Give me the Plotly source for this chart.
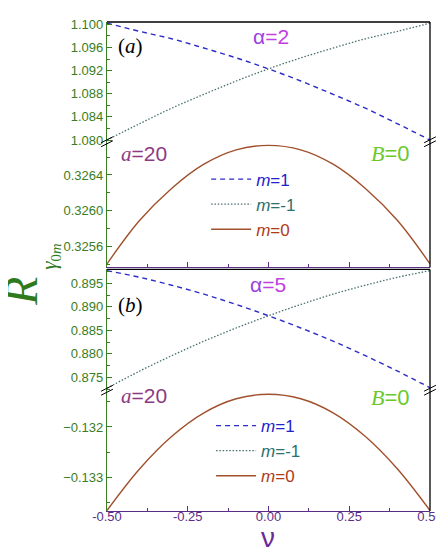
import plotly.graph_objects as go

# ---------------- data ----------------
nu = [-0.5, -0.4, -0.3, -0.2, -0.1, 0.0, 0.1, 0.2, 0.3, 0.4, 0.5]

# panel (a): alpha = 2
a_m1 = [1.1002, 1.0988, 1.0975, 1.0959, 1.0942, 1.0923, 1.0902, 1.0879, 1.0855, 1.0828, 1.0800]
a_mneg1 = [1.0800, 1.0828, 1.0855, 1.0879, 1.0902, 1.0923, 1.0942, 1.0959, 1.0975, 1.0988, 1.1002]
a_m0 = [0.32541, 0.32589, 0.32625, 0.32652, 0.32668, 0.32673, 0.32668, 0.32652, 0.32625, 0.32589, 0.32541]

# panel (b): alpha = 5
b_m1 = [0.8977, 0.8963, 0.8946, 0.8927, 0.8905, 0.8881, 0.8855, 0.8827, 0.8796, 0.8763, 0.8728]
b_mneg1 = [0.8727, 0.8763, 0.8796, 0.8827, 0.8855, 0.8881, 0.8905, 0.8927, 0.8946, 0.8963, 0.8977]
b_m0 = [-0.13366, -0.13284, -0.13219, -0.13172, -0.13144, -0.13135, -0.13144, -0.13172, -0.13219, -0.13284, -0.13366]

x_ticks = [-0.5, -0.25, 0.0, 0.25, 0.5]
x_ticktext = ["-0.50", "-0.25", "0.00", "0.25", "0.50"]

# ---------------- layout helpers ----------------
W, H = 444, 550
L, R, T, B = 99, 16, 9, 47
PW, PH = W - L - R, H - T - B


def px(xp):
    return (xp - L) / PW


def py(yp):
    return (H - B - yp) / PH


GREEN = "#3a7d22"
PURPLE = "#5c2d86"
BLUE = "#2c2cc8"
TEAL = "#4a6f70"
BROWN = "#a0502c"

fig = go.Figure()

dash_blue = "5px,4px"
dot_teal = "1.5px,1.8px"


def add_panel(xa, ya_up, ya_lo, m1, mneg1, m0, legend):
    fig.add_trace(go.Scatter(x=nu, y=m1, xaxis=xa, yaxis=ya_up, mode="lines",
                             line=dict(color=BLUE, width=1.4, dash=dash_blue, shape="spline"),
                             name="<span style='color:#2222cc'><i>m</i>=1</span>", legend=legend))
    fig.add_trace(go.Scatter(x=nu, y=mneg1, xaxis=xa, yaxis=ya_up, mode="lines",
                             line=dict(color=TEAL, width=1.3, dash=dot_teal, shape="spline"),
                             name="<span style='color:#2a7070'><i>m</i>=-1</span>", legend=legend))
    fig.add_trace(go.Scatter(x=nu, y=m0, xaxis=xa, yaxis=ya_lo, mode="lines",
                             line=dict(color=BROWN, width=1.4, shape="spline"),
                             name="<span style='color:#b03a1a'><i>m</i>=0</span>", legend=legend))


add_panel("x2", "y", "y2", a_m1, a_mneg1, a_m0, "legend")
add_panel("x", "y3", "y4", b_m1, b_mneg1, b_m0, "legend2")

tickfont_y = dict(family="Liberation Sans, Arial", size=13, color=GREEN)
tickfont_x = dict(family="Liberation Sans, Arial", size=13, color=PURPLE)

yd1 = [py(130), 1.0]
yd2 = [py(257), py(130)]
yd3 = [py(381), py(259)]
yd4 = [0.0, py(381)]


def yaxis(domain, rng, dtick, tick0, fmt):
    return dict(domain=domain, range=rng, anchor="x", showline=True, linecolor=GREEN,
                linewidth=1.3, ticks="inside", ticklen=5, tickcolor=GREEN, tickwidth=1,
                dtick=dtick, tick0=tick0, tickformat=fmt, tickfont=tickfont_y,
                showgrid=False, zeroline=False,
                minor=dict(ticks="inside", ticklen=3, tickcolor=GREEN, dtick=dtick / 2,
                           tick0=tick0, showgrid=False))


xcommon = dict(range=[-0.5, 0.5], showline=True, linecolor=PURPLE, linewidth=1.3,
               ticks="inside", ticklen=5, tickcolor=PURPLE, tickvals=x_ticks,
               showgrid=False, zeroline=False,
               minor=dict(ticks="inside", ticklen=3, tickcolor=PURPLE,
                          tickvals=[-0.375, -0.125, 0.125, 0.375], showgrid=False))

fig.update_layout(
    width=W, height=H,
    margin=dict(l=L, r=R, t=T, b=B),
    plot_bgcolor="white", paper_bgcolor="white",
    xaxis=dict(domain=[0, 1], anchor="y4", ticktext=x_ticktext, tickfont=tickfont_x,
               ticklabelstandoff=-7, **xcommon),
    xaxis2=dict(domain=[0, 1], anchor="y2", matches="x", showticklabels=False, **xcommon),
    yaxis=yaxis(yd1, [1.0797, 1.1004], 0.004, 1.08, ".3f"),
    yaxis2=yaxis(yd2, [0.32537, 0.32677], 0.0004, 0.3256, ".4f"),
    yaxis3=yaxis(yd3, [0.87226, 0.89795], 0.005, 0.875, ".3f"),
    yaxis4=yaxis(yd4, [-0.13367, -0.13127], 0.001, -0.133, ".3f"),
    legend=dict(x=px(200), y=py(150), xanchor="left", yanchor="top",
                bgcolor="rgba(0,0,0,0)", font=dict(family="Liberation Sans, Arial", size=17),
                tracegroupgap=0, itemwidth=40),
    legend2=dict(x=px(205), y=py(399), xanchor="left", yanchor="top",
                 bgcolor="rgba(0,0,0,0)", font=dict(family="Liberation Sans, Arial", size=17),
                 tracegroupgap=0, itemwidth=40),
    showlegend=True,
)

# frame lines (top and right, black)
shapes = []
for (y0, y1) in [(yd2[0], yd1[1]), (yd4[0], yd3[1])]:
    shapes.append(dict(type="line", xref="paper", yref="paper", x0=1, x1=1, y0=y0, y1=y1,
                       line=dict(color="black", width=1.3)))
    shapes.append(dict(type="line", xref="paper", yref="paper", x0=0, x1=1, y0=y1, y1=y1,
                       line=dict(color="black", width=1.3)))

# axis-break marks "//"
for (xb, yb) in [(L, 130), (L + PW, 130), (L, 381), (L + PW, 381)]:
    for off in (-2, 2):
        shapes.append(dict(type="line", xref="paper", yref="paper",
                           x0=px(xb - 6), y0=py(yb + 3 + off), x1=px(xb + 6), y1=py(yb - 3 + off),
                           line=dict(color="black", width=1)))
fig.update_layout(shapes=shapes)

SERIF = "Liberation Serif, DejaVu Serif, serif"
SANS = "Liberation Sans, Arial, sans-serif"


def ann(xp, yp, text, size, color, family=SANS, angle=0):
    fig.add_annotation(x=px(xp), y=py(yp), xref="paper", yref="paper", text=text,
                       showarrow=False, textangle=angle, xanchor="center", yanchor="middle",
                       font=dict(family=family, size=size, color=color))


ann(123, 33, "(<i>a</i>)", 21, "black", SERIF)
ann(123, 295, "(<i>b</i>)", 21, "black", SERIF)
ann(266, 24, "<span style='color:#9a40e0'>α</span>=2", 21, "#c040e0")
ann(263, 274, "<span style='color:#9a40e0'>α</span>=5", 21, "#c040e0")
a20 = "<span style='font-family:Liberation Serif'><i>a</i></span>=20"
ann(137, 142, a20, 21, "#8e3a82")
ann(137, 387, a20, 21, "#8e3a82")
b0 = "<span style='font-family:Liberation Serif'><i>B</i></span>=0"
ann(388, 142, b0, 22, "#6cc82a")
ann(388, 388, b0, 22, "#6cc82a")

# y-axis title
ann(12, 281, "<i>R</i>", 46, "#2e7a1c", SERIF, -90)
ann(41, 246, "<i>γ</i><sub>0<i>m</i></sub>", 21, "#2e7a1c", SERIF, -90)
# x-axis title
ann(263, 530, "ν", 28, "#6a2a9a", SANS)

fig.write_html("out.html")
